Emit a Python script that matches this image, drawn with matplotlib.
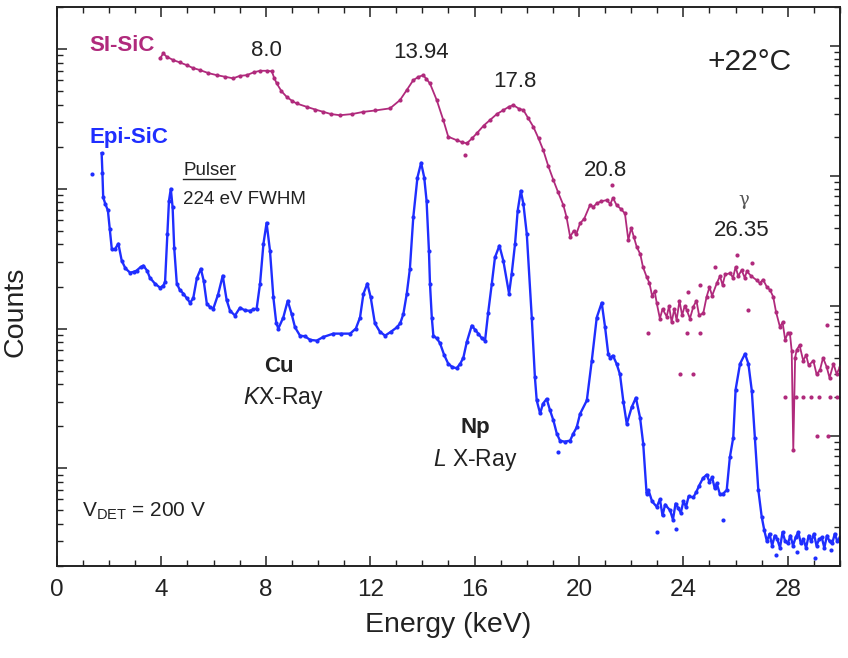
import numpy as np
import matplotlib
matplotlib.use("Agg")
import matplotlib.pyplot as plt
from matplotlib.ticker import LogLocator, NullFormatter, MultipleLocator

plt.rcParams['font.family'] = ['Liberation Sans', 'DejaVu Sans']
plt.rcParams['mathtext.fontset'] = 'custom'
plt.rcParams['mathtext.rm'] = 'Liberation Sans'
plt.rcParams['mathtext.it'] = 'Liberation Sans:italic'
plt.rcParams['mathtext.bf'] = 'Liberation Sans:bold'

# Epi-SiC spectrum (left axis)
epi_energy = [1.71, 1.74, 1.77, 1.85, 1.95, 2.02, 2.10, 2.22, 2.35, 2.48, 2.62, 2.80, 2.95,
              3.05, 3.20, 3.31, 3.45, 3.56, 3.75, 3.95, 4.07, 4.14, 4.23, 4.29, 4.36, 4.43,
              4.49, 4.59, 4.70, 4.84, 4.97, 5.10, 5.22, 5.36, 5.51, 5.62, 5.74, 5.87, 5.99,
              6.17, 6.35, 6.50, 6.63, 6.82, 7.01, 7.20, 7.39, 7.52, 7.65, 7.78, 7.91, 8.03,
              8.16, 8.29, 8.40, 8.48, 8.67, 8.84, 8.99, 9.12, 9.31, 9.50, 9.70, 9.95, 10.2,
              10.59, 10.9, 11.23, 11.45, 11.61, 11.74, 11.89, 12.02, 12.18, 12.37, 12.57,
              12.80, 13.02, 13.15, 13.27, 13.40, 13.52, 13.65, 13.81, 13.95, 14.07, 14.16,
              14.25, 14.29, 14.36, 14.42, 14.55, 14.67, 14.83, 14.99, 15.15, 15.31, 15.45,
              15.57, 15.70, 15.89, 16.02, 16.14, 16.28, 16.40, 16.52, 16.66, 16.78, 16.95,
              17.10, 17.32, 17.42, 17.55, 17.65, 17.77, 17.87, 18.00, 18.19, 18.31, 18.38,
              18.51, 18.62, 18.76, 18.89, 19.02, 19.15, 19.27, 19.45, 19.66, 19.78, 19.91,
              20.04, 20.30, 20.49, 20.68, 20.87, 21.00, 21.12, 21.19, 21.30, 21.44, 21.57,
              21.70, 21.83, 22.02, 22.18, 22.34, 22.46, 22.59, 22.66, 22.80, 22.98, 23.10,
              23.20, 23.30, 23.49, 23.60, 23.70, 23.80, 23.90, 24.00, 24.10, 24.20, 24.38,
              24.50, 24.60, 24.75, 24.89, 25.00, 25.10, 25.20, 25.28, 25.40, 25.53, 25.66,
              25.78, 25.91, 26.00, 26.17, 26.36, 26.49, 26.62, 26.74, 26.87, 27.00, 27.10,
              27.20, 27.30, 27.40, 27.50, 27.60, 27.70, 27.80, 27.90, 28.00, 28.10, 28.20,
              28.30, 28.40, 28.50, 28.60, 28.70, 28.80, 28.90, 29.00, 29.10, 29.20, 29.30,
              29.40, 29.50, 29.60, 29.70, 29.80, 29.90, 30.00]
epi_counts = [1800, 1300, 870, 780, 700, 520, 370, 370, 405, 306, 270, 251, 255,
              260, 275, 282, 260, 231, 210, 196, 203, 215, 475, 820, 1000, 736,
              380, 210, 190, 178, 165, 153, 165, 230, 268, 220, 151, 142, 139,
              175, 239, 160, 134, 124, 141, 135, 134, 137, 139, 210, 405, 571,
              361, 167, 110, 100, 120, 158, 127, 102, 89, 88, 83, 82, 87,
              92, 92, 92, 100, 120, 177, 210, 167, 109, 95, 89,
              95, 102, 109, 127, 177, 267, 624, 1205, 1535, 1205, 820,
              361, 210, 120, 89, 85, 79, 65, 56, 53, 52, 56,
              62, 80, 105, 98, 92, 85, 82, 130, 210, 323, 392,
              306, 178, 245, 405, 696, 968, 778, 474, 120, 45, 30.6,
              24.7, 29, 31.4, 26, 22, 17.7, 15.8, 15.5, 15.8, 17.7, 19.6,
              24.5, 30.6, 59, 120, 153, 102, 66, 62, 64, 56, 47,
              30, 20.8, 27.4, 32, 23, 15, 6.6, 7.0, 5.8, 5.3, 6.0,
              4.6, 5.5, 5.0, 4.3, 5.6, 5.2, 4.8, 5.8, 5.3, 6.3, 6.2,
              6.8, 7.5, 8.5, 9.0, 8.0, 8.6, 7.2, 7.8, 6.5, 6.6, 7.0,
              12, 16.6, 36.5, 56, 66, 56, 36, 16.6, 7.0, 4.5, 3.6,
              3.0, 3.4, 2.8, 3.3, 3.1, 2.7, 3.5, 3.0, 2.9, 3.3, 2.8,
              3.2, 3.5, 2.9, 3.1, 2.7, 3.3, 3.0, 3.4, 2.8, 3.1, 3.2,
              2.7, 3.3, 3.0, 2.9, 3.4, 3.0, 3.2]

# stray Epi-SiC channels away from the trace
epi_stray_energy = [1.33, 19.21, 23.00, 23.72, 25.53, 27.55, 28.35, 29.05, 29.65]
epi_stray_counts = [1280, 13, 3.5, 3.7, 4.3, 2.4, 2.5, 2.3, 2.6]

# SI-SiC spectrum (right axis)
si_energy = [3.95, 4.07, 4.20, 4.46, 4.70, 4.97, 5.20, 5.48, 5.80, 6.12, 6.45, 6.75, 7.00,
             7.27, 7.55, 7.78, 8.05, 8.23, 8.32, 8.42, 8.60, 8.80, 9.00, 9.18, 9.57, 9.90,
             10.20, 10.50, 10.84, 11.30, 11.74, 12.20, 12.76, 13.14, 13.40, 13.65, 13.85,
             14.03, 14.15, 14.29, 14.55, 14.80, 14.99, 15.31, 15.50, 15.70, 15.90, 16.08,
             16.35, 16.59, 16.85, 17.10, 17.30, 17.48, 17.70, 17.87, 18.05, 18.25, 18.45,
             18.63, 18.82, 19.02, 19.20, 19.40, 19.52, 19.66, 19.80, 19.90, 20.04, 20.20,
             20.42, 20.55, 20.68, 20.85, 21.06, 21.20, 21.30, 21.44, 21.60, 21.76, 21.89,
             22.00, 22.10, 22.21, 22.35, 22.45, 22.59, 22.70, 22.80, 22.90, 22.98, 23.10,
             23.20, 23.36, 23.45, 23.55, 23.65, 23.74, 23.85, 23.95, 24.05, 24.13, 24.25,
             24.38, 24.50, 24.60, 24.76, 24.89, 25.00, 25.10, 25.28, 25.40, 25.50, 25.60,
             25.79, 25.90, 26.00, 26.10, 26.23, 26.35, 26.43, 26.60, 26.81, 26.93, 27.05,
             27.20, 27.32, 27.44, 27.55, 27.70, 27.80, 27.90, 28.00, 28.08, 28.15, 28.21,
             28.28, 28.34, 28.45, 28.59, 28.70, 28.80, 28.98, 29.10, 29.23, 29.35, 29.49,
             29.60, 29.75, 29.87, 30.00]
si_counts = [8040, 8790, 8300, 7800, 7500, 7140, 6800, 6540, 6200, 5980, 5800, 5650, 5900,
             5980, 6300, 6460, 6460, 6400, 5700, 5160, 4500, 4070, 3800, 3620, 3410, 3250,
             3120, 3000, 2940, 3000, 3120, 3200, 3320, 3840, 4590, 5470, 5800,
             5980, 5600, 5160, 3840, 2700, 2010, 1890, 1830, 1785, 1950, 2130,
             2450, 2700, 3000, 3220, 3400, 3520, 3300, 3220, 2800, 2395, 1950,
             1585, 1200, 931, 750, 598, 486, 341, 380, 360, 433, 470,
             598, 580, 617, 640, 653, 610, 680, 598, 560, 516, 322,
             400, 340, 286, 250, 200, 168, 150, 120, 130, 105, 80,
             95, 83, 100, 75, 95, 78, 110, 85, 100, 93, 80,
             99, 110, 85, 88, 118, 140, 120, 150, 170, 145, 175,
             179, 165, 200, 170, 189, 165, 185, 170, 158, 150, 160,
             140, 133, 118, 90, 69, 75, 55, 62, 62, 45, 7.8,
             40, 46, 50, 38, 42, 35, 38, 30, 32, 40, 34,
             28, 36, 30, 34]

# raw SI-SiC channels scattered off the trace
si_stray_energy = [15.63, 21.28, 22.66, 23.86, 24.13, 24.19, 24.38, 24.64, 24.64, 25.21,
                   26.04, 26.49, 26.62, 27.90, 28.30, 28.60, 28.90, 29.10, 29.20, 29.49,
                   29.55, 29.60, 29.90]
si_stray_counts = [1450, 851, 62, 30, 62, 129, 30, 145, 62, 201,
                   247, 93, 215, 20, 20, 20, 20, 10, 20, 71,
                   10, 20, 20]

blue = '#1f2eff'
magenta = '#b02a7c'
ink = '#222222'

fig = plt.figure(figsize=(8.48, 6.58), dpi=100)
ax = fig.add_axes([57 / 848, 92 / 658, 783 / 848, 559 / 658])
ax2 = ax.twinx()

ax.plot(epi_energy, epi_counts, color=blue, lw=1.7, marker='o', ms=3.0, mew=0)
ax.plot(epi_stray_energy, epi_stray_counts, ls='none', color=blue, marker='o', ms=3.0, mew=0)
ax2.plot(si_energy, si_counts, color=magenta, lw=1.3, marker='o', ms=3.0, mew=0)
ax2.plot(si_stray_energy, si_stray_counts, ls='none', color=magenta, marker='o', ms=3.0, mew=0)

ax.set_xlim(0, 30)
ax.set_yscale('log')
ax.set_ylim(2, 2e4)
ax2.set_yscale('log')
ax2.set_ylim(1, 2e4)

ax.xaxis.set_major_locator(MultipleLocator(4))
ax.xaxis.set_minor_locator(MultipleLocator(1))
for a in (ax, ax2):
    a.yaxis.set_major_locator(LogLocator(base=10, numticks=20))
    a.yaxis.set_minor_locator(LogLocator(base=10, subs=np.arange(2, 10), numticks=100))
    a.yaxis.set_major_formatter(NullFormatter())
    a.yaxis.set_minor_formatter(NullFormatter())
    for s in a.spines.values():
        s.set_linewidth(1.2)
        s.set_color(ink)

ax.tick_params(axis='both', which='major', direction='in', length=7.5, width=1.1,
               color=ink, top=True, labelsize=17.5, labelcolor=ink, pad=9)
ax.tick_params(axis='both', which='minor', direction='in', length=4.5, width=1.0,
               color=ink, top=True)
ax2.tick_params(axis='y', which='major', direction='in', length=7.5, width=1.1, color=ink)
ax2.tick_params(axis='y', which='minor', direction='in', length=4.5, width=1.0, color=ink)

ax.set_xlabel('Energy (keV)', fontsize=20.5, color=ink, labelpad=8)
ax.set_ylabel('Counts', fontsize=20.5, color=ink)
ax.yaxis.set_label_coords(-0.037, 0.454)

tr = ax.transAxes
ax.text(0.041, 0.932, 'SI-SiC', transform=tr, fontsize=16, fontweight='bold',
        color=magenta, va='center', ha='left')
ax.text(0.042, 0.767, 'Epi-SiC', transform=tr, fontsize=16, fontweight='bold',
        color=blue, va='center', ha='left')

for label, fx, fy in [('8.0', 0.267, 0.923), ('13.94', 0.4655, 0.918),
                      ('17.8', 0.585, 0.866), ('20.8', 0.701, 0.708),
                      ('26.35', 0.874, 0.601)]:
    ax.text(fx, fy, label, transform=tr, fontsize=16, color=ink, ha='center', va='center')
ax.text(0.877, 0.655, '\u03b3', transform=tr, fontsize=13, color='#555555',
        ha='center', va='center', family=['DejaVu Serif'])
ax.text(0.885, 0.902, '+22°C', transform=tr, fontsize=21.5, color=ink,
        ha='center', va='center')

ax.text(0.161, 0.708, 'Pulser', transform=tr, fontsize=13.5, color=ink,
        ha='left', va='center')
ax.plot([0.161, 0.227], [0.692, 0.692], transform=tr, color=ink, lw=1.0, clip_on=False)
ax.text(0.161, 0.655, '224 eV FWHM', transform=tr, fontsize=13.5, color=ink,
        ha='left', va='center')

ax.text(0.2835, 0.356, 'Cu', transform=tr, fontsize=16, fontweight='bold', color=ink,
        ha='center', va='center')
ax.text(0.289, 0.300, r'$\mathit{K}$X-Ray', transform=tr, fontsize=16.5, color=ink,
        ha='center', va='center')
ax.text(0.534, 0.247, 'Np', transform=tr, fontsize=16, fontweight='bold', color=ink,
        ha='center', va='center')
ax.text(0.534, 0.190, r'$\mathit{L}$ X-Ray', transform=tr, fontsize=16.5, color=ink,
        ha='center', va='center')
ax.text(0.032, 0.097, r'V$_{\rm DET}$ = 200 V', transform=tr, fontsize=15, color=ink,
        ha='left', va='center')

fig.savefig('out.png', dpi=100, facecolor='white')
